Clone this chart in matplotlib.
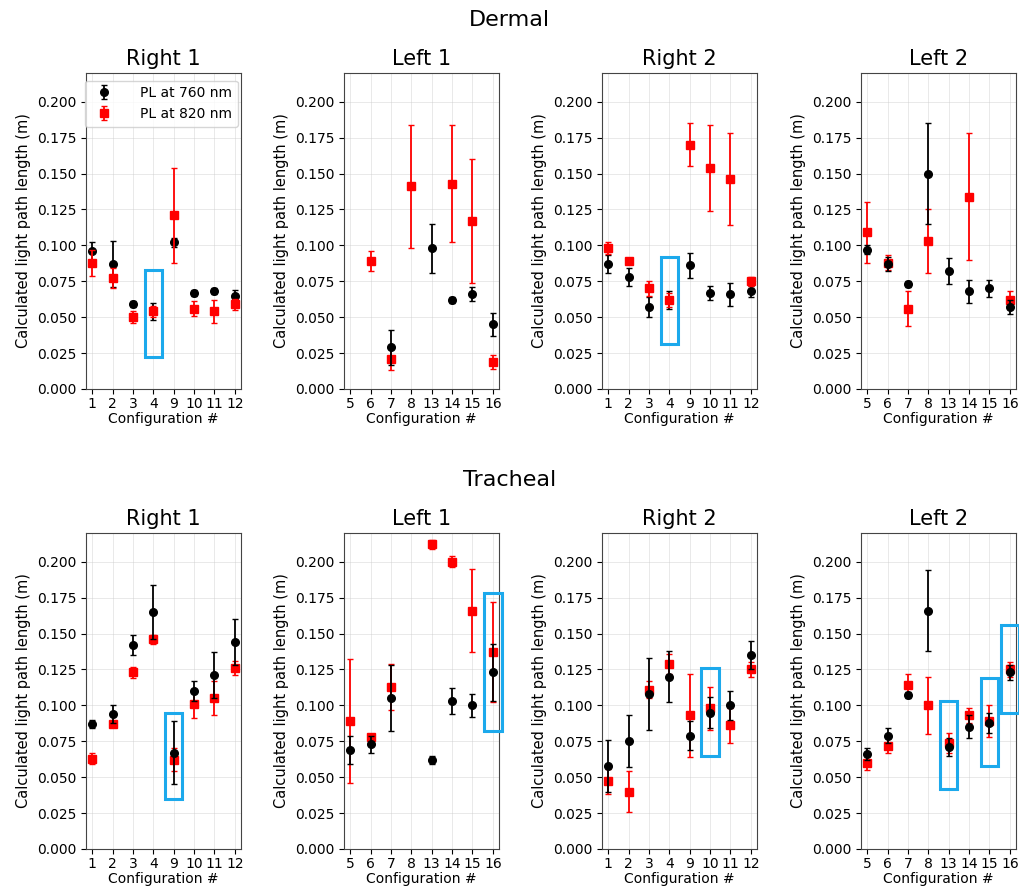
import numpy as np
import matplotlib
matplotlib.use('Agg')
import matplotlib.pyplot as plt
from matplotlib.patches import Rectangle

nan = np.nan

cfg_right = ['1', '2', '3', '4', '9', '10', '11', '12']
cfg_left  = ['5', '6', '7', '8', '13', '14', '15', '16']

# Dermal
derm_r1_760     = [0.096, 0.087, 0.059, 0.054, 0.102, 0.067, 0.068, 0.065]
derm_r1_760_err = [0.006, 0.016, 0.002, 0.006, 0.003, 0.002, 0.002, 0.004]
derm_r1_820     = [0.088, 0.077, 0.050, 0.054, 0.121, 0.056, 0.054, 0.059]
derm_r1_820_err = [0.009, 0.007, 0.004, 0.004, 0.033, 0.005, 0.008, 0.004]

derm_l1_760     = [nan, nan, 0.029, nan, 0.098, 0.062, 0.066, 0.045]
derm_l1_760_err = [nan, nan, 0.012, nan, 0.017, 0.002, 0.005, 0.008]
derm_l1_820     = [nan, 0.089, 0.021, 0.141, nan, 0.143, 0.117, 0.019]
derm_l1_820_err = [nan, 0.007, 0.008, 0.043, nan, 0.041, 0.043, 0.005]

derm_r2_760     = [0.087, 0.078, 0.057, 0.062, 0.086, 0.067, 0.066, 0.068]
derm_r2_760_err = [0.006, 0.006, 0.007, 0.006, 0.009, 0.005, 0.008, 0.004]
derm_r2_820     = [0.098, 0.089, 0.070, 0.062, 0.170, 0.154, 0.146, 0.075]
derm_r2_820_err = [0.004, 0.002, 0.005, 0.005, 0.015, 0.030, 0.032, 0.003]

derm_l2_760     = [0.097, 0.087, 0.073, 0.150, 0.082, 0.068, 0.070, 0.057]
derm_l2_760_err = [0.003, 0.005, 0.002, 0.035, 0.009, 0.008, 0.006, 0.005]
derm_l2_820     = [0.109, 0.088, 0.056, 0.103, nan, 0.134, nan, 0.062]
derm_l2_820_err = [0.021, 0.005, 0.012, 0.022, nan, 0.044, nan, 0.006]

# Tracheal
trach_r1_760     = [0.087, 0.094, 0.142, 0.165, 0.067, 0.110, 0.121, 0.144]
trach_r1_760_err = [0.003, 0.006, 0.007, 0.019, 0.022, 0.007, 0.016, 0.016]
trach_r1_820     = [0.063, 0.087, 0.123, 0.146, 0.062, 0.101, 0.105, 0.126]
trach_r1_820_err = [0.004, 0.002, 0.004, 0.003, 0.008, 0.010, 0.012, 0.005]

trach_l1_760     = [0.069, 0.073, 0.105, nan, 0.062, 0.103, 0.100, 0.123]
trach_l1_760_err = [0.010, 0.006, 0.023, nan, 0.003, 0.009, 0.008, 0.020]
trach_l1_820     = [0.089, 0.078, 0.113, nan, 0.212, 0.200, 0.166, 0.137]
trach_l1_820_err = [0.043, 0.002, 0.016, nan, 0.003, 0.004, 0.029, 0.035]

trach_r2_760     = [0.058, 0.075, 0.108, 0.120, 0.079, 0.095, 0.100, 0.135]
trach_r2_760_err = [0.018, 0.018, 0.025, 0.018, 0.010, 0.011, 0.010, 0.010]
trach_r2_820     = [0.047, 0.040, 0.111, 0.129, 0.093, 0.098, 0.086, 0.125]
trach_r2_820_err = [0.009, 0.014, 0.006, 0.007, 0.029, 0.015, 0.012, 0.005]

trach_l2_760     = [0.066, 0.079, 0.107, 0.166, 0.071, 0.085, 0.088, 0.123]
trach_l2_760_err = [0.004, 0.005, 0.002, 0.028, 0.006, 0.008, 0.007, 0.005]
trach_l2_820     = [0.060, 0.072, 0.114, 0.100, 0.074, 0.093, 0.089, 0.125]
trach_l2_820_err = [0.005, 0.005, 0.008, 0.020, 0.007, 0.005, 0.011, 0.005]

# highlighted configurations: (position index, y bottom, y top)
derm_r1_box  = [(3, 0.022, 0.083)]
derm_r2_box  = [(3, 0.031, 0.092)]
trach_r1_box = [(4, 0.035, 0.095)]
trach_l1_box = [(7, 0.082, 0.178)]
trach_r2_box = [(5, 0.065, 0.126)]
trach_l2_box = [(4, 0.042, 0.103), (6, 0.058, 0.119), (7, 0.095, 0.156)]

panels = [
  # title, ticks, 760, err, 820, err, boxes, red on top
  ('Right 1', cfg_right, derm_r1_760, derm_r1_760_err, derm_r1_820, derm_r1_820_err, derm_r1_box, True),
  ('Left 1',  cfg_left,  derm_l1_760, derm_l1_760_err, derm_l1_820, derm_l1_820_err, [], False),
  ('Right 2', cfg_right, derm_r2_760, derm_r2_760_err, derm_r2_820, derm_r2_820_err, derm_r2_box, True),
  ('Left 2',  cfg_left,  derm_l2_760, derm_l2_760_err, derm_l2_820, derm_l2_820_err, [], False),
  ('Right 1', cfg_right, trach_r1_760, trach_r1_760_err, trach_r1_820, trach_r1_820_err, trach_r1_box, False),
  ('Left 1',  cfg_left,  trach_l1_760, trach_l1_760_err, trach_l1_820, trach_l1_820_err, trach_l1_box, False),
  ('Right 2', cfg_right, trach_r2_760, trach_r2_760_err, trach_r2_820, trach_r2_820_err, trach_r2_box, False),
  ('Left 2',  cfg_left,  trach_l2_760, trach_l2_760_err, trach_l2_820, trach_l2_820_err, trach_l2_box, False),
]

W, H = 1019, 890
fig = plt.figure(figsize=[W/100., H/100.], dpi=100)

lefts = [86, 344, 602, 861]
tops  = [73, 533]
aw, ah = 155, 316
box_col = '#1ca9ec'

for k, (title, ticks, y1, e1, y2, e2, boxes, red_top) in enumerate(panels):
  row, col = k // 4, k % 4
  ax = fig.add_axes((lefts[col]/W, 1 - (tops[row]+ah)/H, aw/W, ah/H))
  pos = np.arange(len(ticks))

  kwa = {}
  kwa['capsize'   ] = 2
  kwa['elinewidth'] = 1.3
  kwa['capthick'  ] = 1
  kwa['linestyle' ] = 'none'
  zb, zr = (2, 3) if red_top else (3, 2)
  hb = ax.errorbar(pos, y1, yerr=e1, fmt='o', color='black', markersize=5.5,
                   zorder=zb, label='PL at 760 nm', **kwa)
  hr = ax.errorbar(pos, y2, yerr=e2, fmt='s', color='red', markersize=6,
                   zorder=zr, label='PL at 820 nm', **kwa)

  for (p, yb, yt) in boxes:
    r = Rectangle((p - 0.43, yb), 0.86, yt - yb, fill=False, edgecolor=box_col,
                  linewidth=2.2, clip_on=False, zorder=5)
    ax.add_patch(r)

  ax.set_xlim(-0.3, 7.3)
  ax.set_ylim(0, 0.22)
  ax.set_xticks(pos)
  ax.set_xticklabels(ticks)
  ax.set_yticks(np.arange(0, 0.2001, 0.025))
  ax.tick_params(labelsize=10)
  ax.xaxis.set_tick_params(pad=2)
  ax.grid(True, color='#cccccc', linewidth=0.6, alpha=0.5)
  ax.set_axisbelow(True)
  ax.set_title(title, fontsize=15)
  ax.set_ylabel('Calculated light path length (m)', fontsize=10.5)
  ax.set_xlabel('Configuration #', fontsize=10, labelpad=1)
  for s in ax.spines.values():
    s.set_color('#444444')

  if k == 0:
    ax.legend(handles=[hb, hr], loc='upper left', bbox_to_anchor=(-0.025, 0.985),
              fontsize=10, borderaxespad=0.2, handletextpad=1.6)

fig.text(0.5, 1 - 20/H, 'Dermal', ha='center', va='center', fontsize=16)
fig.text(0.5, 1 - 480/H, 'Tracheal', ha='center', va='center', fontsize=16)

plt.savefig('out.png', dpi=100)
plt.close(fig)
